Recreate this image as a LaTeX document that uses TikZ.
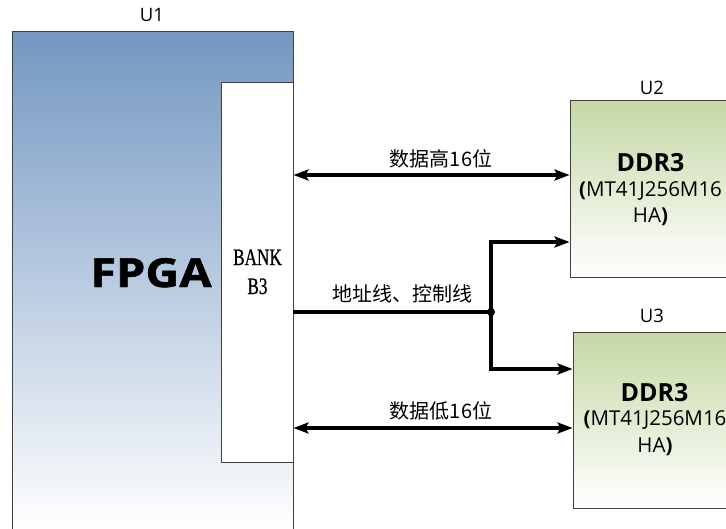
\documentclass[tikz,border=0pt]{standalone}
\usepackage{fontspec}
\setmainfont{Open Sans}
\newfontfamily\cjk{Noto Sans CJK SC}
\newfontfamily\bankfont[FakeBold=1.0]{Liberation Serif}
\usetikzlibrary{arrows.meta}
\definecolor{fpgablue}{HTML}{7397C1}
\definecolor{ddrgreen}{HTML}{C5D8A5}
\definecolor{edgegray}{HTML}{404040}
\tikzset{
  chip/.style={draw=edgegray, line width=0.9pt, rectangle, inner sep=0pt},
  lbl/.style={font=\fontsize{18.5}{20}\selectfont, inner sep=0pt},
  cjklbl/.style={font=\cjk\fontsize{20}{22}\selectfont, inner sep=0pt},
  wire/.style={line width=3.2pt, line cap=butt},
  tip/.style={-{Stealth[length=15pt,width=11pt,inset=3pt]}},
  bitip/.style={{Stealth[length=15pt,width=11pt,inset=3pt]}-{Stealth[length=15pt,width=11pt,inset=3pt]}},
  ddrhead/.style={font=\bfseries\fontsize{25}{26}\selectfont, inner sep=0pt, anchor=base},
  ddrtxt/.style={font=\fontsize{20.5}{22}\selectfont, inner sep=0pt, anchor=base},
  banktxt/.style={font=\bankfont\fontsize{23.5}{26}\selectfont, inner sep=0pt, anchor=base, xscale=0.73},
}
\begin{document}
\begin{tikzpicture}[x=1pt,y=-1pt]
\useasboundingbox (0,0) rectangle (726,528);
% U1 FPGA
\node[chip, minimum width=281pt, minimum height=500pt, top color=fpgablue, bottom color=white] (u1) at (152.5,281) {};
\node[chip, fill=white, minimum width=72pt, minimum height=380pt] (bank) at (257,272) {};
\node[lbl] (u1lbl) at (152,15) {U1};
\node[font=\bfseries\fontsize{40}{42}\selectfont\addfontfeature{FakeBold=1.2}, inner sep=0pt, anchor=base, xscale=1.17] (fpga) at (151,287) {FPGA};
\node[banktxt] (bank1) at (257.5,265) {BANK};
\node[banktxt] (bank2) at (257.5,294) {B3};
% U2
\node[chip, minimum width=160pt, minimum height=177pt, top color=ddrgreen, bottom color=white] (u2) at (650,188.5) {};
\node[lbl] (u2lbl) at (652,88) {U2};
\node[ddrhead] (u2a) at (650.5,171) {DDR3};
\node[ddrtxt] (u2b) at (650.5,196) {\textbf{(}MT41J256M16};
\node[ddrtxt] (u2c) at (650.5,222) {HA\textbf{)}};
% U3
\node[chip, minimum width=157pt, minimum height=176pt, top color=ddrgreen, bottom color=white] (u3) at (651.5,420) {};
\node[lbl] (u3lbl) at (652,316) {U3};
\node[ddrhead] (u3a) at (654.5,401) {DDR3};
\node[ddrtxt] (u3b) at (655,425) {\textbf{(}MT41J256M16};
\node[ddrtxt] (u3c) at (655,452.5) {HA\textbf{)}};
% connectors
\draw[wire, bitip] (bank.east |- 0,175) -- (u2.west |- 0,175);
\node[cjklbl] (hi) at (441,158.5) {数据高16位};
\coordinate (j) at (491,312);
\draw[wire] (bank.east |- j) -- (j);
\draw[wire, tip] (j) |- (u2.west |- 0,242);
\draw[wire, tip] (j) |- (u3.west |- 0,369);
\fill (j) circle (4pt);
\node[cjklbl] (addr) at (402.5,293.5) {地址线、控制线};
\draw[wire, bitip] (bank.east |- 0,428) -- (u3.west |- 0,428);
\node[cjklbl] (lo) at (441,411) {数据低16位};
\end{tikzpicture}
\end{document}
